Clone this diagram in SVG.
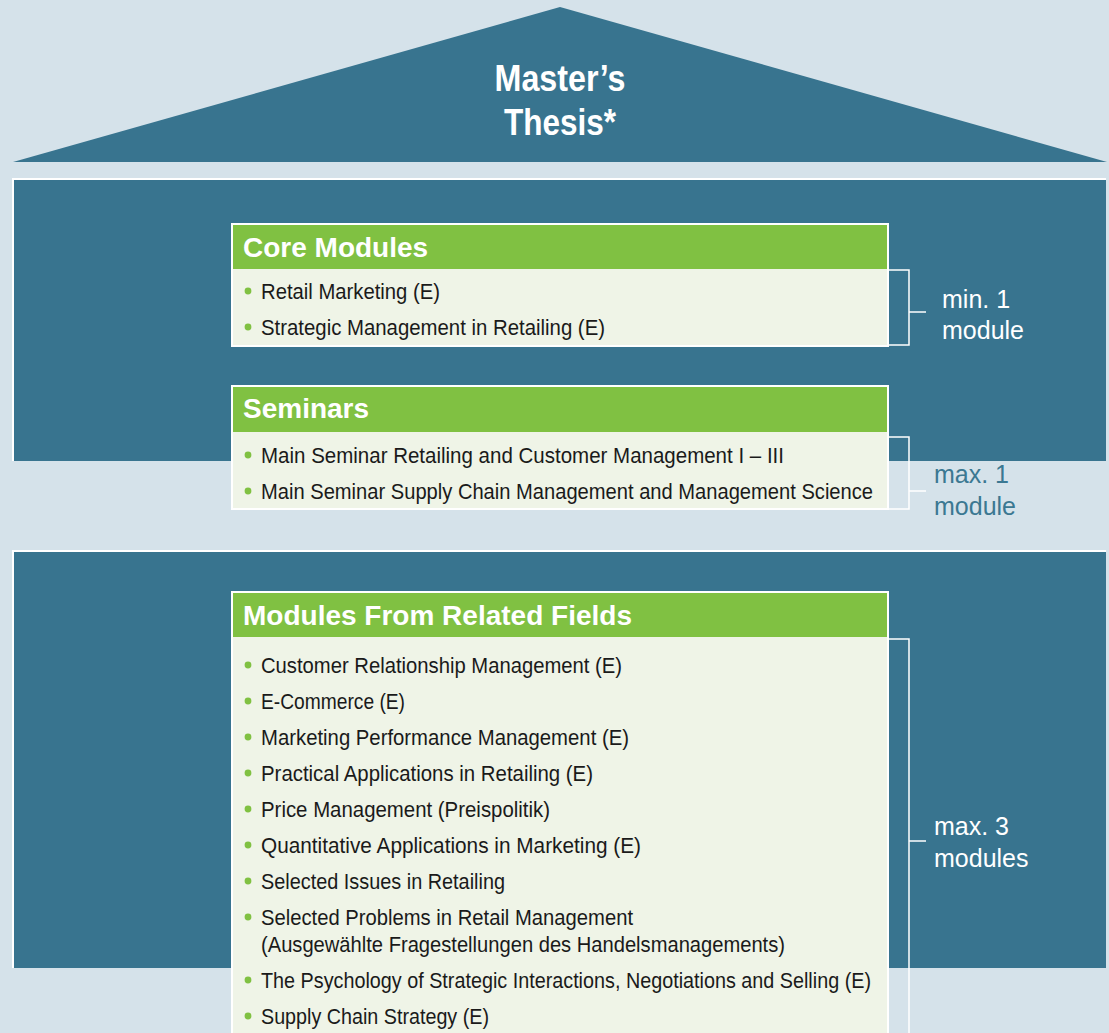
<svg xmlns="http://www.w3.org/2000/svg" width="1109" height="1033" viewBox="0 0 1109 1033">
<style>
.bg{fill:#d5e2ea}
.dark{fill:#38748f}
.edge{stroke:#ffffff;stroke-width:2;fill:none}
.box{fill:#eff4e7;stroke:#ffffff;stroke-width:2}
.hdr{fill:#80c142}
.ht{font-family:"Liberation Sans",Arial,sans-serif;font-weight:bold;font-size:28px;fill:#ffffff}
.it{font-family:"Liberation Sans",Arial,sans-serif;font-size:22px;fill:#1a1a1a}
.dot{fill:#80c142}
.br{stroke:#ffffff;stroke-width:1.5;fill:none}
.lbl{font-family:"Liberation Sans",Arial,sans-serif;font-size:25px;fill:#ffffff}
.lblb{font-family:"Liberation Sans",Arial,sans-serif;font-size:25px;fill:#3b7892}
.title{font-family:"Liberation Sans",Arial,sans-serif;font-weight:bold;font-size:36px;fill:#ffffff}
</style>
<rect class="bg" x="0" y="0" width="1109" height="1033"/>

<g id="roof">
<polygon class="dark" points="560,7 1107,162 13,162"/>
<text class="title" x="560" y="91" text-anchor="middle" textLength="131" lengthAdjust="spacingAndGlyphs">Master’s</text>
<text class="title" x="560" y="135" text-anchor="middle" textLength="112" lengthAdjust="spacingAndGlyphs">Thesis*</text>
</g>

<g id="upper-body">
<rect class="dark" x="14" y="180" width="1092" height="281"/>
<polyline class="edge" points="13,461 13,179 1106,179"/>
</g>

<g id="lower-body">
<rect class="dark" x="14" y="552" width="1092" height="416"/>
<polyline class="edge" points="13,968 13,551 1106,551"/>
</g>

<g id="core-modules">
<rect class="box" x="232" y="224" width="656" height="122"/>
<rect class="hdr" x="233" y="225" width="654" height="44"/>
<text class="ht" x="243" y="257">Core Modules</text>
<circle class="dot" cx="248" cy="291" r="3.4"/>
<text class="it" x="261" y="299" textLength="179" lengthAdjust="spacingAndGlyphs">Retail Marketing (E)</text>
<circle class="dot" cx="248" cy="327" r="3.4"/>
<text class="it" x="261" y="335" textLength="344" lengthAdjust="spacingAndGlyphs">Strategic Management in Retailing (E)</text>
</g>

<g id="seminars">
<rect class="box" x="232" y="386" width="656" height="123"/>
<rect class="hdr" x="233" y="387" width="654" height="45"/>
<text class="ht" x="243" y="418">Seminars</text>
<circle class="dot" cx="248" cy="455" r="3.4"/>
<text class="it" x="261" y="463" textLength="523" lengthAdjust="spacingAndGlyphs">Main Seminar Retailing and Customer Management I – III</text>
<circle class="dot" cx="248" cy="491" r="3.4"/>
<text class="it" x="261" y="499" textLength="612" lengthAdjust="spacingAndGlyphs">Main Seminar Supply Chain Management and Management Science</text>
</g>

<g id="related-fields">
<rect class="box" x="232" y="592" width="656" height="460"/>
<rect class="hdr" x="233" y="593" width="654" height="44"/>
<text class="ht" x="243" y="625">Modules From Related Fields</text>
<circle class="dot" cx="248" cy="665" r="3.4"/>
<text class="it" x="261" y="673" textLength="361" lengthAdjust="spacingAndGlyphs">Customer Relationship Management (E)</text>
<circle class="dot" cx="248" cy="701" r="3.4"/>
<text class="it" x="261" y="709" textLength="144" lengthAdjust="spacingAndGlyphs">E-Commerce (E)</text>
<circle class="dot" cx="248" cy="737" r="3.4"/>
<text class="it" x="261" y="745" textLength="368" lengthAdjust="spacingAndGlyphs">Marketing Performance Management (E)</text>
<circle class="dot" cx="248" cy="773" r="3.4"/>
<text class="it" x="261" y="781" textLength="332" lengthAdjust="spacingAndGlyphs">Practical Applications in Retailing (E)</text>
<circle class="dot" cx="248" cy="809" r="3.4"/>
<text class="it" x="261" y="817" textLength="289" lengthAdjust="spacingAndGlyphs">Price Management (Preispolitik)</text>
<circle class="dot" cx="248" cy="845" r="3.4"/>
<text class="it" x="261" y="853" textLength="380" lengthAdjust="spacingAndGlyphs">Quantitative Applications in Marketing (E)</text>
<circle class="dot" cx="248" cy="881" r="3.4"/>
<text class="it" x="261" y="889" textLength="244" lengthAdjust="spacingAndGlyphs">Selected Issues in Retailing</text>
<circle class="dot" cx="248" cy="917" r="3.4"/>
<text class="it" x="261" y="925" textLength="372" lengthAdjust="spacingAndGlyphs">Selected Problems in Retail Management</text>
<text class="it" x="261" y="952" textLength="524" lengthAdjust="spacingAndGlyphs">(Ausgewählte Fragestellungen des Handelsmanagements)</text>
<circle class="dot" cx="248" cy="980" r="3.4"/>
<text class="it" x="261" y="988" textLength="610" lengthAdjust="spacingAndGlyphs">The Psychology of Strategic Interactions, Negotiations and Selling (E)</text>
<circle class="dot" cx="248" cy="1016" r="3.4"/>
<text class="it" x="261" y="1024" textLength="228" lengthAdjust="spacingAndGlyphs">Supply Chain Strategy (E)</text>
</g>

<g id="connectors">
<polyline class="br" points="889,270 909,270 909,345 889,345"/>
<line class="br" x1="909" y1="312" x2="926" y2="312"/>
<polyline class="br" points="889,437 909,437 909,509 889,509"/>
<line class="br" x1="909" y1="491" x2="926" y2="491"/>
<polyline class="br" points="889,639 909,639 909,1040"/>
<line class="br" x1="909" y1="841" x2="926" y2="841"/>
</g>

<g id="labels">
<text class="lbl" x="942" y="308">min. 1</text>
<text class="lbl" x="942" y="339">module</text>
<text class="lblb" x="934" y="483">max. 1</text>
<text class="lblb" x="934" y="515">module</text>
<text class="lbl" x="934" y="835">max. 3</text>
<text class="lbl" x="934" y="867">modules</text>
</g>
</svg>
